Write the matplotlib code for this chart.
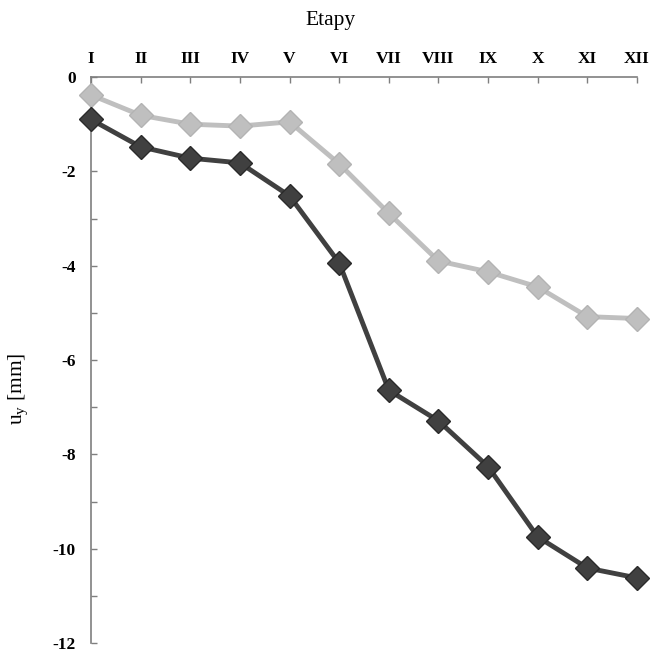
import matplotlib
matplotlib.use("Agg")
import matplotlib.pyplot as plt
import numpy as np

# stages and displacement values
etapy = ["I", "II", "III", "IV", "V", "VI", "VII", "VIII", "IX", "X", "XI", "XII"]
uy_light = [-0.38, -0.81, -1.00, -1.04, -0.95, -1.84, -2.89, -3.90, -4.13, -4.45, -5.08, -5.12]
uy_dark = [-0.90, -1.48, -1.72, -1.82, -2.52, -3.94, -6.64, -7.29, -8.26, -9.75, -10.41, -10.62]

plt.rcParams["font.family"] = ["Liberation Serif", "DejaVu Serif"]
plt.rcParams["mathtext.fontset"] = "custom"
plt.rcParams["mathtext.rm"] = "Liberation Serif"
plt.rcParams["mathtext.it"] = "Liberation Serif:italic"

fig = plt.figure(figsize=(6.5, 6.54), dpi=100)
ax = fig.add_axes([0.14, 0.0168, 0.84, 0.8654])

x = np.arange(len(etapy))
ax.plot(x, uy_light, color="#bfbfbf", lw=3.5, marker="D", ms=12.5,
        mfc="#bfbfbf", mec="#b3b3b3", mew=1, zorder=3, clip_on=False)
ax.plot(x, uy_dark, color="#404040", lw=3.5, marker="D", ms=12.5,
        mfc="#404040", mec="#2a2a2a", mew=1, zorder=4, clip_on=False)

ax.set_xlim(0, len(etapy) - 1)
ax.set_ylim(-12, 0)

# axes frame: only top and left
for s in ["right", "bottom"]:
    ax.spines[s].set_visible(False)
for s in ["top", "left"]:
    ax.spines[s].set_color("#7f7f7f")
    ax.spines[s].set_linewidth(1.2)

ax.xaxis.tick_top()
ax.xaxis.set_label_position("top")
ax.set_xticks(x)
ax.set_xticklabels(etapy, fontweight="bold", fontsize=12.5)
ax.set_yticks(np.arange(-12, 1, 2))
ax.set_yticks(np.arange(-11, 0, 2), minor=True)
ax.set_yticklabels([str(v) for v in range(-12, 1, 2)], fontweight="bold", fontsize=12.5)
ax.tick_params(axis="x", direction="in", length=4, width=1, color="#7f7f7f", pad=7)
ax.tick_params(axis="y", which="both", direction="in", length=4, width=1,
               color="#7f7f7f", pad=11)

ax.set_xlabel("Etapy", fontsize=15.5)
ax.xaxis.label.set_va("center")
ax.xaxis.set_label_coords(0.438, 1.1)
ax.set_ylabel(r"u$_\mathregular{y}$ [mm]", fontsize=15.5)
ax.yaxis.label.set_va("center")
ax.yaxis.set_label_coords(-0.134, 0.45)

fig.savefig("out.png", dpi=100)
